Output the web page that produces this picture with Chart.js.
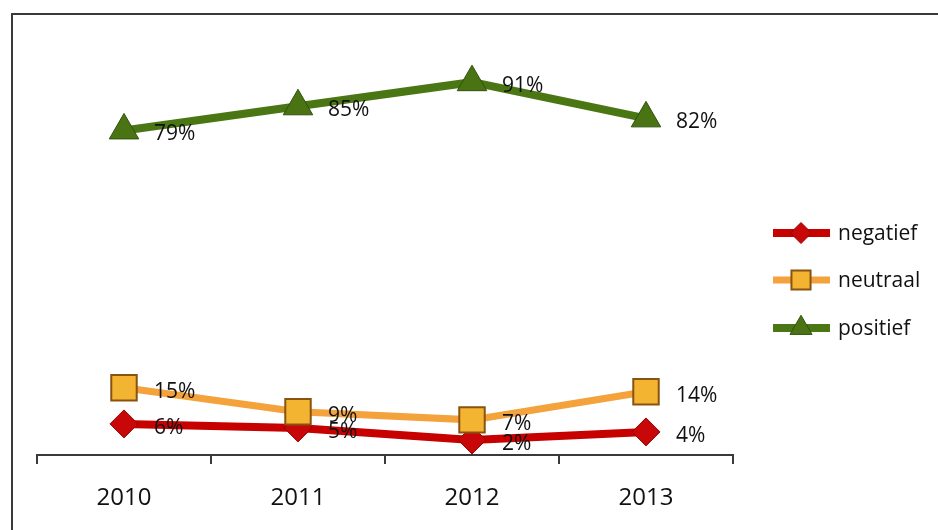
<!DOCTYPE html>
<html>
<head>
<meta charset="utf-8">
<script src="https://cdn.jsdelivr.net/npm/chart.js@4/dist/chart.umd.min.js"></script>
<style>
body { margin: 0; background: #fff; }
#wrap { position: relative; width: 938px; height: 530px; overflow: hidden; }
#frame { position: absolute; left: 11px; top: 13px; right: -5px; bottom: -5px; border-left: 2px solid #3a3a3a; border-top: 2px solid #3a3a3a; }
canvas { position: absolute; left: 0; top: 0; }
</style>
</head>
<body>
<div id="wrap">
  <div id="frame"></div>
  <canvas id="myChart" width="938" height="530"></canvas>
</div>
<script>
const years = ['2010', '2011', '2012', '2013'];
const negatief = [6, 5, 2, 4];
const neutraal = [15, 9, 7, 14];
const positief = [79, 85, 91, 82];
const seriesNames = ['negatief', 'neutraal', 'positief'];

const fontFam = '"Open Sans", "Noto Sans", sans-serif';
const ctx = document.getElementById('myChart').getContext('2d');

// percentage labels right of every point
const pointLabels = {
    id: 'pointLabels',
    afterDatasetsDraw(chart) {
        let c = chart.ctx;
        c.save();
        c.font = '21px ' + fontFam;
        c.fillStyle = '#111';
        c.textBaseline = 'middle';
        chart.data.datasets.forEach((ds, i) => {
            chart.getDatasetMeta(i).data.forEach((pt, j) => {
                c.fillText(ds.data[j] + '%', pt.x + 30, pt.y + 4);
            });
        });
        c.restore();
    }
};

// legend on the right: line with marker, then name
const sideLegend = {
    id: 'sideLegend',
    afterDraw(chart) {
        let c = chart.ctx;
        let ys = [233, 280, 328];
        c.save();
        chart.data.datasets.forEach((ds, i) => {
            let y = ys[i];
            c.strokeStyle = ds.borderColor;
            c.lineWidth = ds.borderWidth;
            c.beginPath();
            c.moveTo(773, y);
            c.lineTo(830, y);
            c.stroke();
            c.fillStyle = ds.pointBackgroundColor;
            c.strokeStyle = ds.pointBorderColor;
            c.lineWidth = ds.pointBorderWidth;
            Chart.helpers.drawPoint(c, {
                pointStyle: ds.pointStyle,
                radius: ds.pointRadius * 0.75,
                rotation: 0,
                borderWidth: ds.pointBorderWidth
            }, 801, y);
            c.font = '21px ' + fontFam;
            c.fillStyle = '#111';
            c.textBaseline = 'middle';
            c.fillText(ds.label, 838, y + 1);
        });
        c.restore();
    }
};

let myChart = new Chart(ctx, {
    type: 'line',
    data: {
        labels: years,
        datasets: [{
            label: seriesNames[0],
            data: negatief,
            borderColor: '#c70000',
            borderWidth: 8,
            pointStyle: 'rectRot',
            pointRadius: 14,
            pointBackgroundColor: '#c80808',
            pointBorderColor: '#9a0000',
            pointBorderWidth: 1,
            order: 2
        }, {
            label: seriesNames[1],
            data: neutraal,
            borderColor: '#f3a23c',
            borderWidth: 7,
            pointStyle: 'rect',
            pointRadius: 18,
            pointBackgroundColor: '#f2b431',
            pointBorderColor: '#8a5210',
            pointBorderWidth: 2,
            order: 1
        }, {
            label: seriesNames[2],
            data: positief,
            borderColor: '#4a7613',
            borderWidth: 8,
            pointStyle: 'triangle',
            pointRadius: 17,
            pointBackgroundColor: '#4a7414',
            pointBorderColor: '#2f520a',
            pointBorderWidth: 1,
            order: 0
        }]
    },
    options: {
        responsive: false,
        animation: false,
        layout: { padding: { left: 37, right: 205, top: 46, bottom: 0 } },
        plugins: {
            legend: { display: false },
            tooltip: { enabled: false }
        },
        scales: {
            x: {
                offset: true,
                afterFit(scale) { scale.height = 75; },
                grid: {
                    offset: true,
                    drawOnChartArea: false,
                    tickLength: 9,
                    color: '#3a3a3a',
                    lineWidth: 2
                },
                border: { display: true, color: '#3a3a3a', width: 2 },
                ticks: {
                    color: '#111',
                    padding: 20,
                    font: { family: fontFam, size: 24 }
                }
            },
            y: {
                display: false,
                min: -1.74,
                max: 100
            }
        }
    },
    plugins: [pointLabels, sideLegend]
});
</script>
</body>
</html>
